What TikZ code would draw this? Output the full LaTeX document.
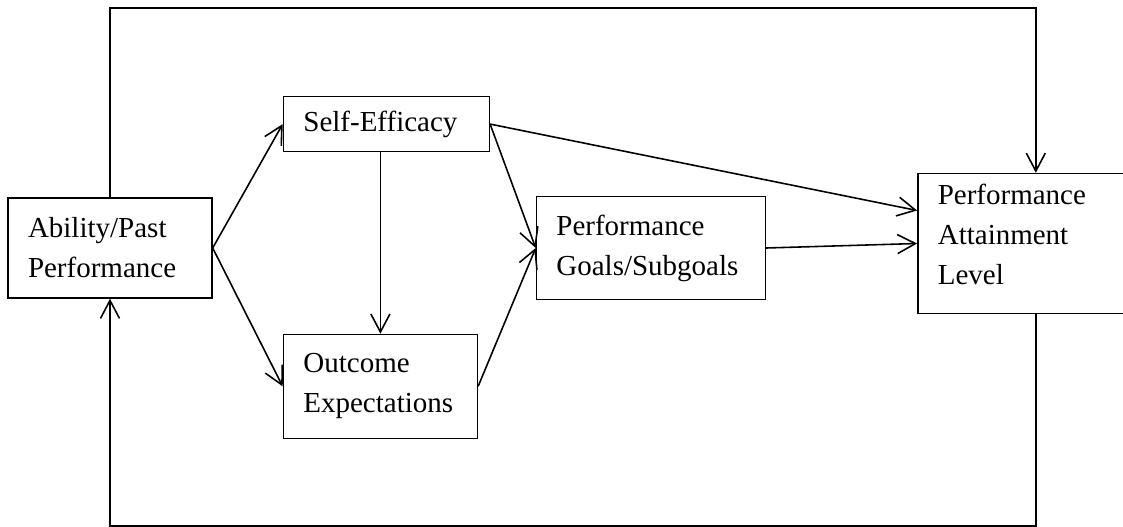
\documentclass[tikz,border=0pt]{standalone}
\usepackage{fontspec}
\setmainfont{Liberation Serif}
\usetikzlibrary{arrows.meta, positioning}

\begin{document}
\begin{tikzpicture}[
    block/.style = {rectangle, draw, line width=0.8pt, align=left, inner xsep=0.4cm, inner ysep=0pt, font = \fontsize{16.5}{22.8}\selectfont},
    link/.style = {line width=0.9pt},
    >={Straight Barb[length=0.36cm, width=0.38cm, line width=0.9pt]}]

    \useasboundingbox (0,0) rectangle (22.46,-10.54);
    \coordinate (top) at (0,-0.16);
    \coordinate (bottom) at (0,-10.52);

    \node[block, text width=3.28cm, minimum height=2cm] (A) at (2.2,-4.96) {Ability/Past\\Performance};
    \node[block, text width=3.32cm, minimum height=1.1cm, above right=0.9cm and 1.4cm of A] (SE) {Self-Efficacy};
    \node[block, text width=3.08cm, minimum height=2.08cm, below right=0.7cm and 1.4cm of A] (O) {Outcome\\Expectations};
    \node[block, text width=3.78cm, minimum height=2.06cm, right=6.46cm of A] (G) {Performance\\Goals/Subgoals};
    \node[block, text width=3.92cm, minimum height=2.8cm, text depth=1.96cm, right=3.02cm of G, yshift=0.09cm] (L) {Performance\\Attainment\\Level};

    \draw[link, ->] (A.east) -- (SE.west);
    \draw[link, ->] (A.east) -- (O.west);
    \draw[link, ->] (O.north |- SE.south) -- (O.north);
    \draw[link, ->] (SE.east) -- (G.west);
    \draw[link, ->] (O.east) -- (G.west);
    \draw[link, ->] (SE.east) -- ([yshift=0.66cm]L.west);
    \draw[link, ->] (G.east) -- (L.west);
    \draw[link, ->] (A.north) -- (A.north |- top) -| (L.north);
    \draw[link, ->] (L.south) -- (L.south |- bottom) -| (A.south);
\end{tikzpicture}
\end{document}
